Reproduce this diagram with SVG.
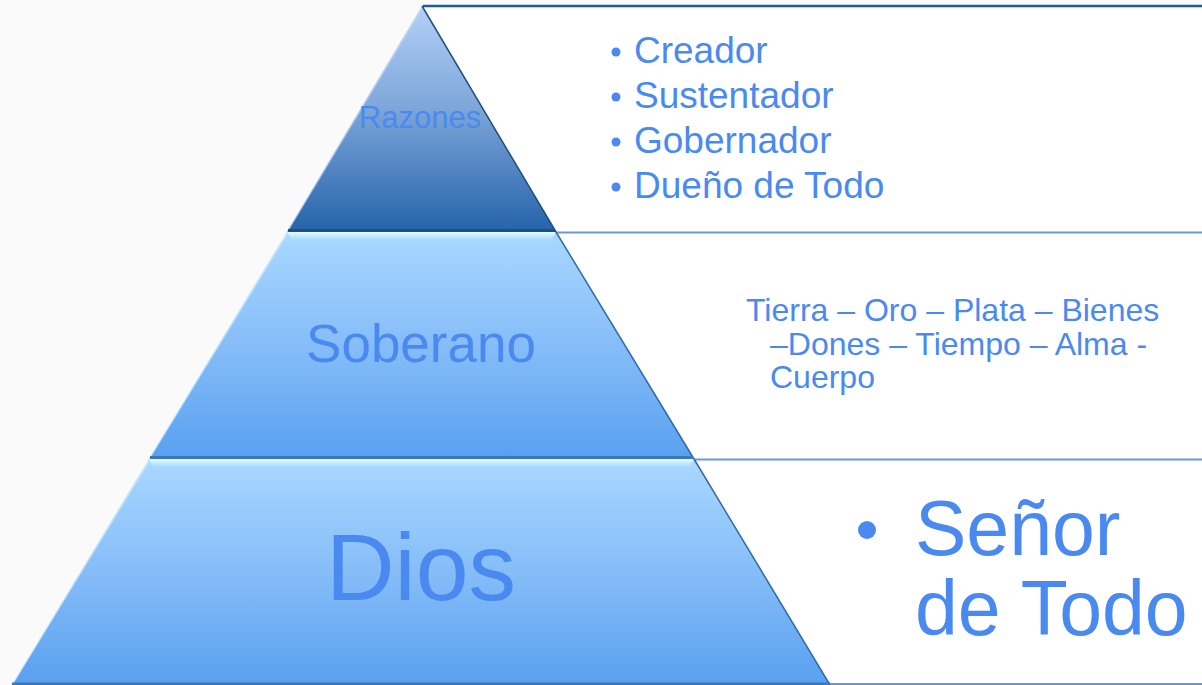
<svg xmlns="http://www.w3.org/2000/svg" width="1202" height="685" viewBox="0 0 1202 685">
<defs>
<linearGradient id="gTop" x1="0" y1="0" x2="0" y2="1">
<stop offset="0" stop-color="#b4d0f6"/>
<stop offset="0.45" stop-color="#7ea6da"/>
<stop offset="1" stop-color="#2563aa"/>
</linearGradient>
<linearGradient id="gTier" x1="0" y1="0" x2="0" y2="1">
<stop offset="0" stop-color="#a9d8ff"/>
<stop offset="0.5" stop-color="#86bdf8"/>
<stop offset="1" stop-color="#58a0f0"/>
</linearGradient>
<linearGradient id="gHi" x1="0" y1="0" x2="0" y2="1">
<stop offset="0" stop-color="#e8ffff" stop-opacity="1"/>
<stop offset="1" stop-color="#c8f0ff" stop-opacity="0"/>
</linearGradient>
<style>
.lbl{font-family:"Liberation Sans",Arial,sans-serif;fill:#4a8af0}
.dark{stroke:#3f76b8;stroke-width:3}
</style>
</defs>
<rect x="0" y="0" width="1202" height="685" fill="#fafafa"/>
<g id="boxes">
<rect x="423" y="6" width="779" height="226" fill="#ffffff"/>
<line x1="423" y1="6" x2="1202" y2="6" stroke="#1f5a94" stroke-width="2.5"/>
<rect x="556" y="232" width="646" height="227" fill="#ffffff"/>
<line x1="556" y1="232.5" x2="1202" y2="232.5" stroke="#6a9ad6" stroke-width="2"/>
<rect x="694" y="459" width="508" height="226" fill="#ffffff"/>
<line x1="694" y1="459.5" x2="1202" y2="459.5" stroke="#6a9ad6" stroke-width="2"/>
<line x1="830" y1="684" x2="1202" y2="684" stroke="#6a9ad6" stroke-width="2"/>
</g>
<g id="tier-bottom">
<polygon points="149,459 694,459 830,685 12,685" fill="url(#gTier)"/>
<polygon points="149,459 694,459 689,468 153,468" fill="url(#gHi)"/>
<line x1="149" y1="461" x2="12" y2="685" stroke="#d6f4ff" stroke-width="1.5" opacity="0.6"/>
<line x1="694" y1="459" x2="830" y2="685" stroke="#2f6aa8" stroke-width="1.5"/>
<line x1="12" y1="684" x2="830" y2="684" class="dark"/>
<text class="lbl" x="421" y="600" font-size="95" text-anchor="middle">Dios</text>
</g>
<g id="tier-middle">
<polygon points="287,232 556,232 694,459 149,459" fill="url(#gTier)"/>
<polygon points="287,232 556,232 551,241 292,241" fill="url(#gHi)"/>
<line x1="287" y1="234" x2="149" y2="459" stroke="#d6f4ff" stroke-width="1.5" opacity="0.6"/>
<line x1="556" y1="232" x2="694" y2="459" stroke="#2f6aa8" stroke-width="1.5"/>
<line x1="150" y1="457.5" x2="693" y2="457.5" class="dark"/>
<text class="lbl" x="421" y="362" font-size="53" text-anchor="middle">Soberano</text>
</g>
<g id="tier-top">
<polygon points="422,6 556,232 287,232" fill="url(#gTop)"/>
<line x1="422" y1="6" x2="556" y2="232" stroke="#1f4f80" stroke-width="1.5"/>
<line x1="422" y1="8" x2="287" y2="232" stroke="#c4dcff" stroke-width="1.5" opacity="0.6"/>
<line x1="288" y1="230.5" x2="555" y2="230.5" stroke="#1d4f86" stroke-width="3"/>
<text class="lbl" x="420" y="128" font-size="31" text-anchor="middle">Razones</text>
</g>
<g id="list-top" class="lbl">
<circle cx="616" cy="52" r="4.5" fill="#4a8af0"/>
<circle cx="616" cy="97" r="4.5" fill="#4a8af0"/>
<circle cx="616" cy="142" r="4.5" fill="#4a8af0"/>
<circle cx="616" cy="187" r="4.5" fill="#4a8af0"/>
<text x="634" y="63" font-size="37">Creador</text>
<text x="634" y="108" font-size="37">Sustentador</text>
<text x="634" y="153" font-size="37">Gobernador</text>
<text x="634" y="198" font-size="37">Dueño de Todo</text>
</g>
<g id="list-middle" class="lbl" font-size="32">
<text x="746" y="321">Tierra – Oro – Plata – Bienes</text>
<text x="770" y="355">–Dones – Tiempo – Alma -</text>
<text x="770" y="388">Cuerpo</text>
</g>
<g id="list-bottom" class="lbl">
<circle cx="867" cy="530" r="9" fill="#4a8af0"/>
<text x="915" y="555" font-size="77">Señor</text>
<text x="915" y="635" font-size="77">de Todo</text>
</g>
</svg>
